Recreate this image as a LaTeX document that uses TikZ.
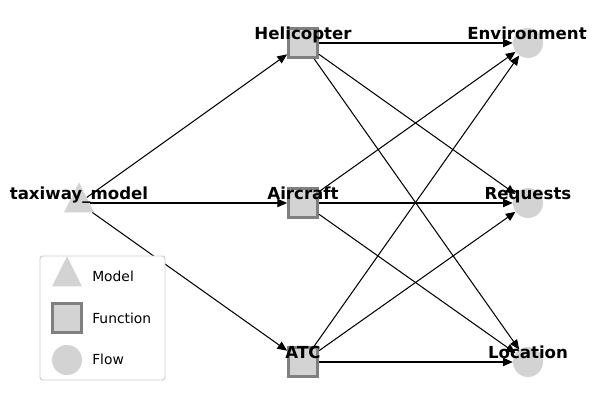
\documentclass[tikz,border=0pt]{standalone}
\usepackage{fontspec}
\setmainfont{DejaVu Sans}
\usepackage{xcolor}
\usepackage{tikz}
\usetikzlibrary{shapes.geometric,arrows.meta,positioning}
\definecolor{nodefill}{HTML}{D3D3D3}
\definecolor{boxedge}{HTML}{808080}
\definecolor{legendedge}{HTML}{CCCCCC}
\tikzstyle{model} = [isosceles triangle, isosceles triangle stretches, shape border rotate=90, minimum width=0.3in, minimum height=0.3in, inner sep=0pt, fill=nodefill]
\tikzstyle{function} = [rectangle, minimum size=0.29in, inner sep=0pt, draw=boxedge, line width=2pt, fill=nodefill]
\tikzstyle{flow} = [circle, minimum size=0.3in, inner sep=0pt, fill=nodefill]
\tikzstyle{nodelabel} = [anchor=base, inner sep=0pt, font=\fontsize{12}{14}\selectfont\bfseries]
\tikzstyle{legendtext} = [anchor=west, inner sep=0pt, font=\fontsize{10}{12}\selectfont]
\tikzstyle{arrow} = [line width=0.75pt, -{Triangle[length=7pt,width=6pt]}]

\begin{document}
\begin{tikzpicture}[x=0.01in, y=-0.01in]
  \useasboundingbox (0,0) rectangle (597,405);

  \node (model) [model] at (79,203) {};
  \node (helicopter) [function] at (303,43) {};
  \node (aircraft) [function] at (303,203) {};
  \node (atc) [function] at (303,362) {};
  \node (environment) [flow] at (528,43) {};
  \node (requests) [flow] at (528,203) {};
  \node (location) [flow] at (528,362) {};

  \draw [arrow] (model) -- (helicopter);
  \draw [arrow] (model) -- (aircraft);
  \draw [arrow] (model) -- (atc);
  \draw [arrow] (helicopter) -- (environment);
  \draw [arrow] (helicopter) -- (requests);
  \draw [arrow] (helicopter) -- (location);
  \draw [arrow] (aircraft) -- (environment);
  \draw [arrow] (aircraft) -- (requests);
  \draw [arrow] (aircraft) -- (location);
  \draw [arrow] (atc) -- (environment);
  \draw [arrow] (atc) -- (requests);
  \draw [arrow] (atc) -- (location);

  \node (model-name) [nodelabel] at (79,199.5) {taxiway\_model};
  \node (helicopter-name) [nodelabel] at (303,39.5) {Helicopter};
  \node (aircraft-name) [nodelabel] at (303,199.5) {Aircraft};
  \node (atc-name) [nodelabel] at (303,358.5) {ATC};
  \node (environment-name) [nodelabel] at (527,39.5) {Environment};
  \node (requests-name) [nodelabel] at (528,199.5) {Requests};
  \node (location-name) [nodelabel] at (528,358.5) {Location};

  % legend
  \draw [draw=legendedge, fill=white, rounded corners=2pt, line width=0.7pt] (40,256) rectangle (165,380);
  \node (key-model) [model] at (67,277) {};
  \node (key-function) [function] at (67,318) {};
  \node (key-flow) [flow] at (67,360) {};
  \node (key-model-text) [legendtext] at (92,276) {Model};
  \node (key-function-text) [legendtext] at (92,318) {Function};
  \node (key-flow-text) [legendtext] at (92,359) {Flow};
\end{tikzpicture}
\end{document}
